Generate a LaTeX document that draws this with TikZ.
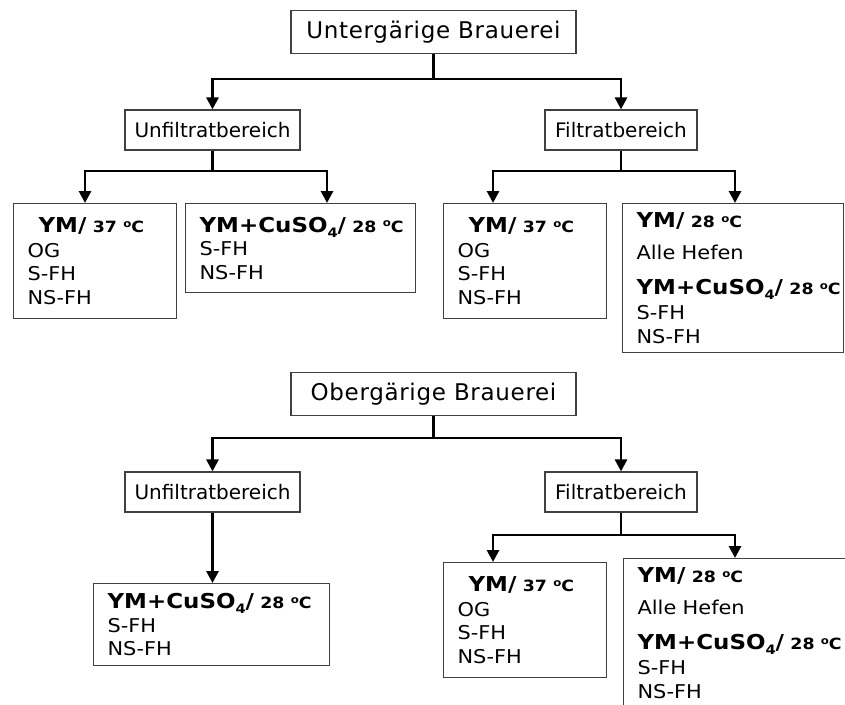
\documentclass[tikz,border=0pt]{standalone}
\usepackage{fontspec}
\setmainfont{DejaVu Sans}
\newfontfamily\titlefont[LetterSpace=3]{DejaVu Sans}
\newfontface\lfreg[FakeStretch=1.1]{DejaVu Sans}
\newfontface\lfbold[FakeStretch=1.12]{DejaVu Sans Bold}
\usetikzlibrary{arrows.meta}

% temperature in small bold type, with a raised small "o" as degree mark
\newcommand\gradC[1]{{\fontsize{15.5}{15.5}\lfbold #1 {\fontsize{10.5}{10.5}\lfbold\raisebox{5.2pt}{o}}C}}
% bold headings inside the leaf boxes
\newcommand\ymline[1]{\mbox{\fontsize{20.5}{23.5}\lfbold YM/ \gradC{#1}}}
\newcommand\culine{\mbox{\fontsize{20.5}{23.5}\lfbold YM+CuSO\raisebox{-5pt}{\fontsize{13}{13}\lfbold 4}/ \gradC{28}}}

\tikzset{
  head/.style={draw=black!75, line width=1.2pt, minimum width=285pt, minimum height=43pt,
    inner sep=0pt, font=\titlefont\fontsize{23}{23}\selectfont},
  branch/.style={draw=black!75, line width=1.2pt, minimum height=40pt, inner sep=0pt,
    font=\fontsize{20}{20}\selectfont},
  leaf/.style={draw=black!75, line width=1.2pt, anchor=north west, align=left,
    inner xsep=14pt, inner ysep=0pt, font=\fontsize{19}{23.5}\lfreg},
  conn/.style={line width=2.8pt},
  arr/.style={conn, -{Triangle[length=12pt,width=12pt]}}
}

\begin{document}
\begin{tikzpicture}[x=1pt,y=-1pt]
\useasboundingbox (0,0) rectangle (845,704);
\clip (0,0) rectangle (845,704);

% ---------------- bottom-fermenting brewery ----------------
\node[head] (ub) at (433.5,32) {Untergärige Brauerei};
\node[branch, minimum width=175pt] (uu) at (212.5,130) {Unfiltratbereich};
\node[branch, minimum width=152pt] (uf) at (621,130) {Filtratbereich};

\node[leaf, text width=135pt, minimum height=115pt] (a) at (13,203)
  {\hspace*{11pt}\ymline{37}\\[1pt] OG\\ S-FH\\ NS-FH};
\node[leaf, text width=202pt, minimum height=89pt] (b) at (185,203)
  {\culine\\ S-FH\\ NS-FH};
\node[leaf, text width=135pt, minimum height=115pt] (c) at (443,203)
  {\hspace*{11pt}\ymline{37}\\[1pt] OG\\ S-FH\\ NS-FH};
\node[leaf, text width=193pt, minimum height=149pt] (d) at (622,203)
  {\ymline{28}\\[9pt] Alle Hefen\\[11pt] \culine\\[2pt] S-FH\\ NS-FH};

\coordinate (j0) at (433.5,79);
\coordinate (j1) at (212.5,171);
\coordinate (j2) at (621,171);
\coordinate (xa) at (85,0);
\coordinate (xb) at (327,0);
\coordinate (xc) at (493,0);
\coordinate (xd) at (735,0);

\draw[conn] (ub.south) -- (j0);
\draw[arr] (j0) -| (uu.north);
\draw[arr] (j0) -| (uf.north);
\draw[conn] (uu.south) -- (j1);
\draw[arr] (j1) -| (xa |- a.north);
\draw[arr] (j1) -| (xb |- b.north);
\draw[conn] (uf.south) -- (j2);
\draw[arr] (j2) -| (xc |- c.north);
\draw[arr] (j2) -| (xd |- d.north);

% ---------------- top-fermenting brewery ----------------
\node[head] (ob) at (433.5,394) {Obergärige Brauerei};
\node[branch, minimum width=175pt] (ou) at (212.5,492) {Unfiltratbereich};
\node[branch, minimum width=152pt] (of) at (621,492) {Filtratbereich};

\node[leaf, text width=208pt, minimum height=82pt] (e) at (93,583)
  {\culine\\ S-FH\\ NS-FH};
\node[leaf, text width=135pt, minimum height=115pt] (f) at (443,562)
  {\hspace*{11pt}\ymline{37}\\[1pt] OG\\ S-FH\\ NS-FH};
\node[leaf, text width=197pt, minimum height=149pt] (g) at (623,558)
  {\ymline{28}\\[9pt] Alle Hefen\\[11pt] \culine\\[2pt] S-FH\\ NS-FH};

\coordinate (k0) at (433.5,438);
\coordinate (k2) at (621,535);

\draw[conn] (ob.south) -- (k0);
\draw[arr] (k0) -| (ou.north);
\draw[arr] (k0) -| (of.north);
\draw[arr] (ou.south) -- (e.north -| ou.south);
\draw[conn] (of.south) -- (k2);
\draw[arr] (k2) -| (xc |- f.north);
\draw[arr] (k2) -| (xd |- g.north);
\end{tikzpicture}
\end{document}
